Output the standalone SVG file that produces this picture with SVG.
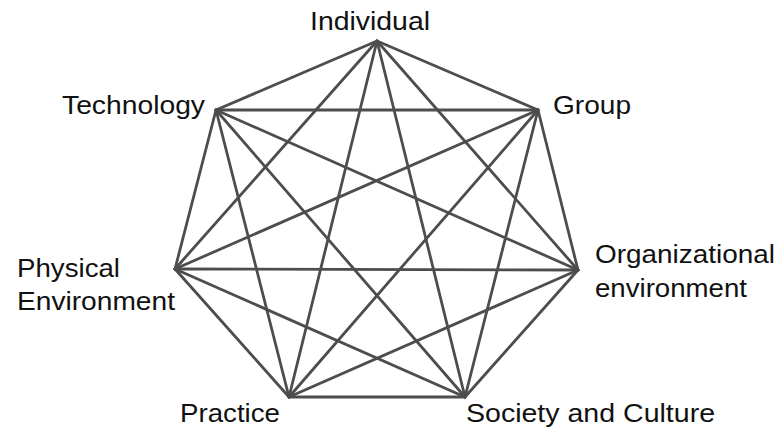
<svg xmlns="http://www.w3.org/2000/svg" width="779" height="430" viewBox="0 0 779 430">
<style>
.e{stroke:#4d4d4d;stroke-width:2.8;stroke-linecap:round;fill:none}
.t{font-family:"Liberation Sans",Arial,sans-serif;font-size:26px;fill:#111111}
</style>
<rect width="779" height="430" fill="#ffffff"/>
<g id="connectors">
<line class="e" x1="377" y1="41" x2="538" y2="110"/>
<line class="e" x1="377" y1="41" x2="578" y2="270"/>
<line class="e" x1="377" y1="41" x2="465" y2="397"/>
<line class="e" x1="377" y1="41" x2="289" y2="397"/>
<line class="e" x1="377" y1="41" x2="175" y2="269"/>
<line class="e" x1="377" y1="41" x2="216" y2="110"/>
<line class="e" x1="538" y1="110" x2="578" y2="270"/>
<line class="e" x1="538" y1="110" x2="465" y2="397"/>
<line class="e" x1="538" y1="110" x2="289" y2="397"/>
<line class="e" x1="538" y1="110" x2="175" y2="269"/>
<line class="e" x1="538" y1="110" x2="216" y2="110"/>
<line class="e" x1="578" y1="270" x2="465" y2="397"/>
<line class="e" x1="578" y1="270" x2="289" y2="397"/>
<line class="e" x1="578" y1="270" x2="175" y2="269"/>
<line class="e" x1="578" y1="270" x2="216" y2="110"/>
<line class="e" x1="465" y1="397" x2="289" y2="397"/>
<line class="e" x1="465" y1="397" x2="175" y2="269"/>
<line class="e" x1="465" y1="397" x2="216" y2="110"/>
<line class="e" x1="289" y1="397" x2="175" y2="269"/>
<line class="e" x1="289" y1="397" x2="216" y2="110"/>
<line class="e" x1="175" y1="269" x2="216" y2="110"/>
</g>
<g id="individual"><text class="t" x="310" y="30" textLength="120" lengthAdjust="spacingAndGlyphs">Individual</text></g>
<g id="group"><text class="t" x="553" y="114" textLength="78" lengthAdjust="spacingAndGlyphs">Group</text></g>
<g id="organizational"><text class="t" x="595" y="263" textLength="180" lengthAdjust="spacingAndGlyphs">Organizational</text><text class="t" x="595" y="297" textLength="152" lengthAdjust="spacingAndGlyphs">environment</text></g>
<g id="society"><text class="t" x="466" y="422" textLength="249" lengthAdjust="spacingAndGlyphs">Society and Culture</text></g>
<g id="practice"><text class="t" x="180" y="422" textLength="100" lengthAdjust="spacingAndGlyphs">Practice</text></g>
<g id="physical"><text class="t" x="17" y="277" textLength="103" lengthAdjust="spacingAndGlyphs">Physical</text><text class="t" x="17" y="310" textLength="158" lengthAdjust="spacingAndGlyphs">Environment</text></g>
<g id="technology"><text class="t" x="62" y="114" textLength="143" lengthAdjust="spacingAndGlyphs">Technology</text></g>
</svg>
